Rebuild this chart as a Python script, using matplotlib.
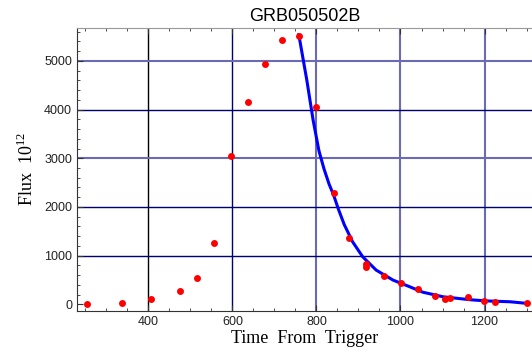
import matplotlib
matplotlib.use("Agg")
import matplotlib.pyplot as plt
from matplotlib.ticker import MultipleLocator

plt.rcParams['font.family'] = 'Liberation Sans'
plt.rcParams['mathtext.fontset'] = 'custom'
plt.rcParams['mathtext.rm'] = 'Liberation Serif'

# observed points
t_obs = [255, 337, 406, 475, 515, 555, 596, 636, 677, 717, 758, 798,
         841, 878, 918, 917, 960, 1001, 1041, 1081, 1105, 1119, 1161,
         1198, 1226, 1302]
flux_obs = [10, 30, 115, 280, 546, 1252, 3045, 4154, 4928, 5427, 5503, 4057,
            2285, 1361, 830, 775, 581, 444, 315, 170, 110, 138, 144,
            78, 58, 22]

# fitted decay curve
t_fit = [758, 777, 792, 806, 818, 830, 841, 852, 866, 886, 910, 942, 982,
         1022, 1053, 1101, 1165, 1205, 1261, 1301]
flux_fit = [5536, 4606, 3784, 3150, 2780, 2470, 2240, 1960, 1640, 1285, 977,
            704, 499, 361, 250, 156, 95, 70, 53, 20]

fig = plt.figure(figsize=(5.32, 3.6), dpi=100)
ax = fig.add_axes([0.1447, 0.137, 0.8553, 0.785])

dark = '#000070'
light = '#6b6bb5'
for x, c, w in [(400, 'black', 1.0), (600, dark, 1.0), (800, light, 1.5),
                (1000, light, 1.5), (1200, light, 1.5)]:
    ax.axvline(x, color=c, lw=w, zorder=1)
for y, c, w in [(1000, dark, 1.0), (2000, dark, 1.0), (3000, light, 1.5),
                (4000, dark, 1.0), (5000, light, 1.5)]:
    ax.axhline(y, color=c, lw=w, zorder=1)

ax.plot(t_fit, flux_fit, color='#0000ff', lw=2.2, zorder=3)
ax.plot(t_obs, flux_obs, 'o', color='#ff0000', ms=5, mec='none', zorder=4)

ax.set_xlim(230, 1313)
ax.set_ylim(-130, 5673)
ax.xaxis.set_major_locator(MultipleLocator(200))
ax.xaxis.set_minor_locator(MultipleLocator(50))
ax.yaxis.set_major_locator(MultipleLocator(1000))
ax.yaxis.set_minor_locator(MultipleLocator(200))
ax.tick_params(which='both', direction='in', top=True, labelsize=9,
               labelcolor='#222222', color='#333333')
ax.tick_params(which='major', length=4)
ax.tick_params(which='minor', length=2)

ax.spines['right'].set_visible(False)
ax.spines['top'].set_color('#999999')
ax.spines['left'].set_color('#333333')
ax.spines['bottom'].set_color('#333333')

ax.set_title('GRB050502B', fontsize=13, pad=5)
ax.set_xlabel('Time  From  Trigger', family='Liberation Serif', fontsize=13, labelpad=2)
ax.set_ylabel('Flux  $10^{12}$', family='Liberation Serif', fontsize=13, labelpad=5)

fig.savefig('out.png', dpi=100)
